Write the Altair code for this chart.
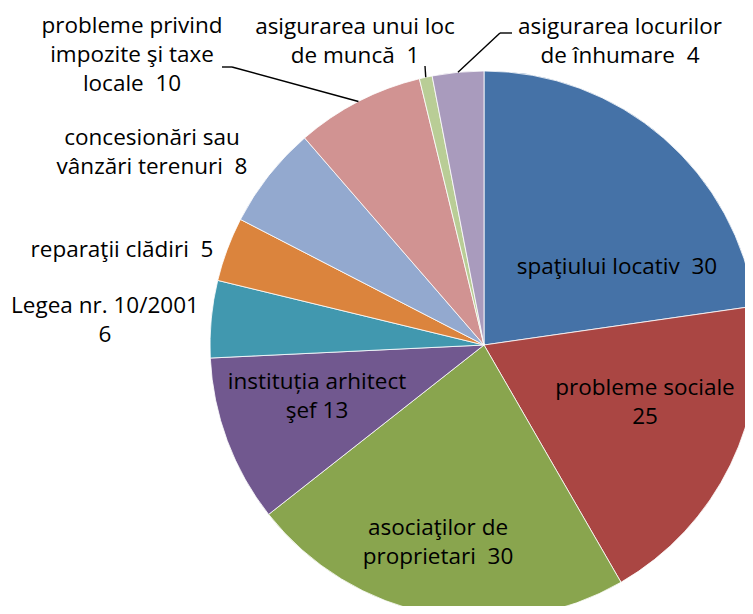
import math
import altair as alt
import pandas as pd

# ---- data ----
categories = [
    "spaţiului locativ",
    "probleme sociale",
    "asociaţilor de proprietari",
    "instituția arhitect şef",
    "Legea nr. 10/2001",
    "reparaţii clădiri",
    "concesionări sau vânzări terenuri",
    "probleme privind impozite şi taxe locale",
    "asigurarea unui loc de muncă",
    "asigurarea locurilor de înhumare",
]
values = [30, 25, 30, 13, 6, 5, 8, 10, 1, 4]
label_lines = [
    ["spaţiului locativ  30"],
    ["probleme sociale", "25"],
    ["asociaţilor de", "proprietari  30"],
    ["instituția arhitect", "şef 13"],
    ["Legea nr. 10/2001", "6"],
    ["reparaţii clădiri  5"],
    ["concesionări sau", "vânzări terenuri  8"],
    ["probleme privind", "impozite şi taxe", "locale  10"],
    ["asigurarea unui loc", "de muncă  1"],
    ["asigurarea locurilor", "de înhumare  4"],
]

# ---- style / layout ----
colors = ["#4572A7", "#AA4643", "#89A54E", "#71588F", "#4198AF",
          "#DB843D", "#93A9CF", "#D19392", "#B9CD96", "#A99BBD"]
W, H = 737, 598
CX, CY, R = 476, 337, 274          # pie centre / radius within the plot
LINE_H = 29
FONT = "Open Sans"
FS = 22.5
# label block centre, as offset (dx, dy) from the pie centre
label_offset = [
    (133, -78), (161, 57), (-46, 197), (-167, 51), (-379, -25),
    (-362, -95), (-332, -193), (-352, -290), (-129, -304), (136, -304),
]
# leader lines: elbow offset from centre and horizontal end offset
leader = {
    7: [(-252, -278), (-262, -278)],
    8: [(-59, -279)],
    9: [(16, -312), (28, -312)],
}

total = sum(values)
rows, text_rows, line_rows = [], [], []
cum = 0
for i, (c, v) in enumerate(zip(categories, values)):
    rows.append({"idx": i, "cat": c, "value": v})
    mid = (cum + v / 2) / total * 2 * math.pi
    cum += v
    dx, dy = label_offset[i]
    n = len(label_lines[i])
    for j, ln in enumerate(label_lines[i]):
        text_rows.append({"x": CX + dx, "y": CY + dy + (j - (n - 1) / 2) * LINE_H,
                          "t": ln.replace("  ", " \u00a0")})
    if i in leader:
        pts = [(CX + R * math.sin(mid), CY - R * math.cos(mid))]
        pts += [(CX + ox, CY + oy) for ox, oy in leader[i]]
        for k in range(len(pts) - 1):
            line_rows.append({"x": pts[k][0], "y": pts[k][1],
                              "x2": pts[k + 1][0], "y2": pts[k + 1][1]})

df = pd.DataFrame(rows)
tdf = pd.DataFrame(text_rows)
ldf = pd.DataFrame(line_rows)

pie = alt.Chart(df).mark_arc(outerRadius=R, stroke="#ffffff", strokeWidth=0.8).encode(
    theta=alt.Theta("value:Q", stack=True),
    order=alt.Order("idx:Q"),
    color=alt.Color("cat:N", scale=alt.Scale(domain=categories, range=colors), legend=None),
    x=alt.value(CX),
    y=alt.value(CY),
)

lines = alt.Chart(ldf).mark_rule(color="#000000", strokeWidth=1.4).encode(
    x=alt.X("x:Q", scale=None), y=alt.Y("y:Q", scale=None),
    x2="x2:Q", y2="y2:Q",
)

texts = alt.Chart(tdf).mark_text(font=FONT, fontSize=FS, color="#000000",
                                 align="center", baseline="middle").encode(
    x=alt.X("x:Q", scale=None), y=alt.Y("y:Q", scale=None), text="t:N",
)

chart = alt.layer(pie, lines, texts).properties(
    width=W, height=H, padding=0, autosize=alt.AutoSizeParams(type="none"),
).configure_view(stroke=None)

chart.save("out.html", embed_options={"renderer": "svg", "actions": False})
